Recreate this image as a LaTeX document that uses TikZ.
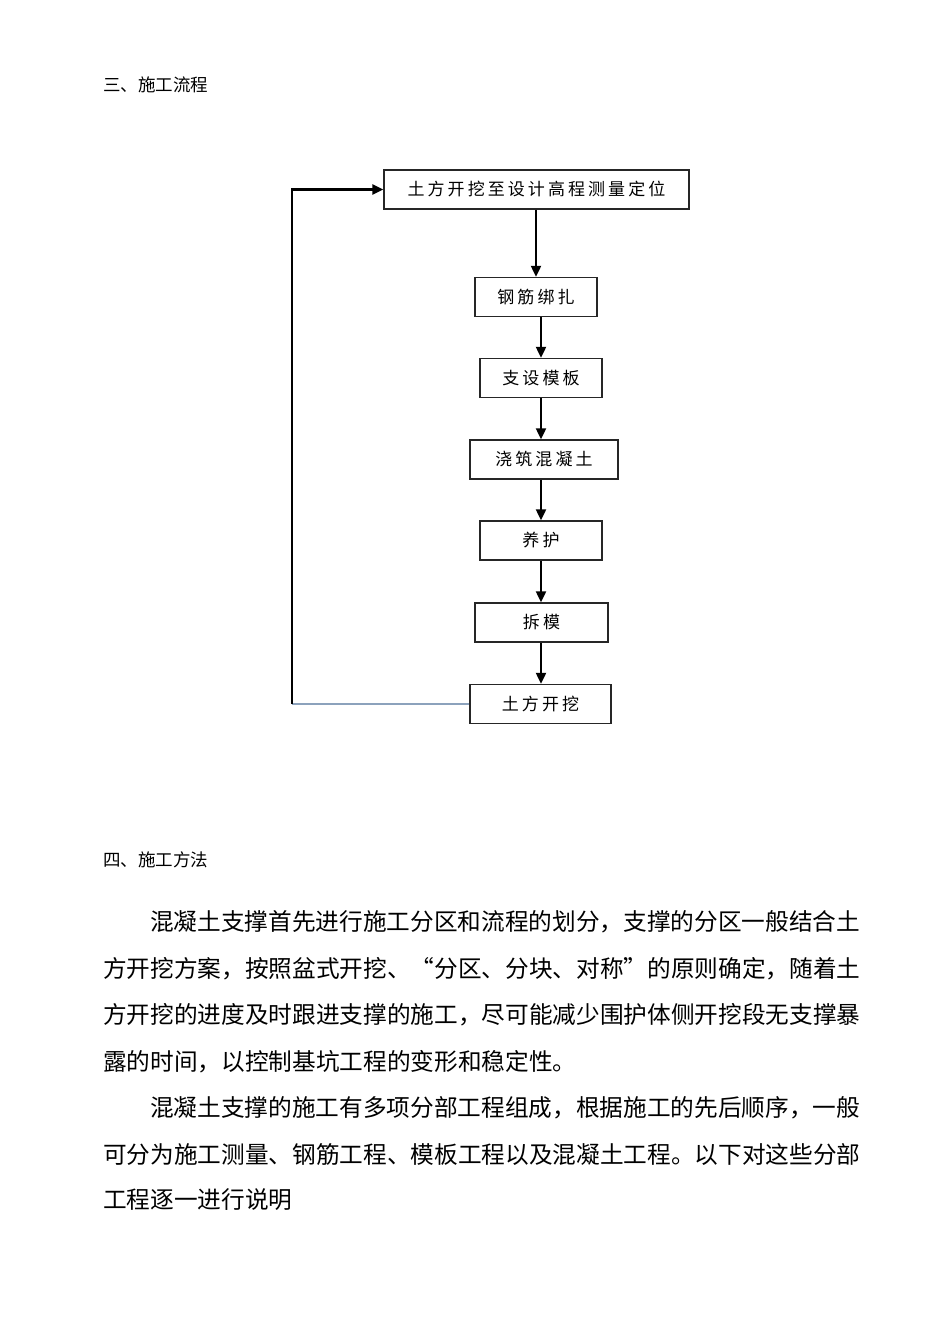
\documentclass[tikz,border=0pt]{standalone}
\usepackage{fontspec}
\usetikzlibrary{arrows.meta}
\newfontfamily\cjk{Noto Sans CJK SC}
\newfontfamily\boxfont[LetterSpace=18]{Noto Sans CJK SC}
\definecolor{loopgray}{RGB}{140,162,188}

\tikzset{
  stepbox/.style={draw=black!85, line width=1.3pt, inner sep=0pt,
    minimum height=39pt, font=\boxfont\fontsize{17}{20}\selectfont},
  flow/.style={line width=2pt, -{Triangle[length=11pt,width=10pt]}},
  backline/.style={draw=loopgray, line width=1.5pt},
  heading/.style={anchor=west, inner sep=0pt, font=\cjk\fontsize{17.5}{20}\selectfont},
  bodyline/.style={anchor=west, inner sep=0pt, font=\cjk\fontsize{23.66}{30}\selectfont}
}

\begin{document}
\begin{tikzpicture}[x=1pt, y=-1pt]
\useasboundingbox[fill=white] (0,0) rectangle (950,1344);

% headings
\node[heading] (h3) at (103,85) {三、施工流程};
\node[heading] (h4) at (103,860) {四、施工方法};

% flow chart boxes
\node[stepbox, minimum width=305pt] (b1) at (536.5,189.5) {土方开挖至设计高程测量定位};
\node[stepbox, minimum width=122pt] (b2) at (536,297) {钢筋绑扎};
\node[stepbox, minimum width=122pt] (b3) at (541,378) {支设模板};
\node[stepbox, minimum width=148pt] (b4) at (544,459.5) {浇筑混凝土};
\node[stepbox, minimum width=122pt] (b5) at (541,540.5) {养护};
\node[stepbox, minimum width=133pt] (b6) at (541.5,622.5) {拆模};
\node[stepbox, minimum width=141pt] (b7) at (540.5,704) {土方开挖};

% arrows down
\draw[flow] (b1.south -| b2.north) -- (b2.north);
\draw[flow] (b2.south -| b3.north) -- (b3.north);
\draw[flow] (b3.south) -- (b3.south |- b4.north);
\draw[flow] (b5.north |- b4.south) -- (b5.north);
\draw[flow] (b5.south) -- (b5.south |- b6.north);
\draw[flow] (b5.south |- b6.south) -- (b5.south |- b7.north);

% loop back
\coordinate (loop) at (292,704);
\draw[backline] (b7.west) -- (loop);
\draw[flow, line width=2.6pt] (loop) |- (b1.west);

% paragraph text
\node[bodyline] (p1) at (150,922) {混凝土支撑首先进行施工分区和流程的划分，支撑的分区一般结合土};
\node[bodyline] (p2) at (103,968.5) {方开挖方案，按照盆式开挖、“分区、分块、对称”的原则确定，随着土};
\node[bodyline] (p3) at (103,1015) {方开挖的进度及时跟进支撑的施工，尽可能减少围护体侧开挖段无支撑暴};
\node[bodyline] (p4) at (103,1062) {露的时间，以控制基坑工程的变形和稳定性。};
\node[bodyline] (q1) at (150,1108) {混凝土支撑的施工有多项分部工程组成，根据施工的先后顺序，一般};
\node[bodyline] (q2) at (103,1154) {可分为施工测量、钢筋工程、模板工程以及混凝土工程。以下对这些分部};
\node[bodyline] (q3) at (103,1200) {工程逐一进行说明};
\end{tikzpicture}
\end{document}
